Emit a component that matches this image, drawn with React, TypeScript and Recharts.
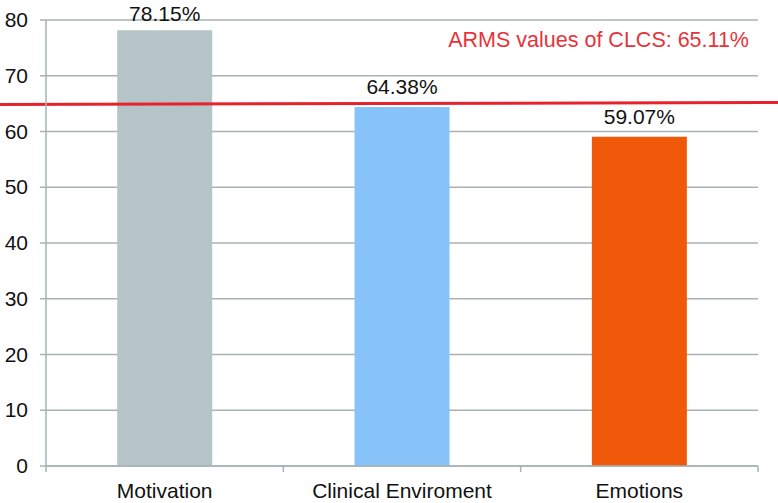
import React from "react";
import { BarChart, Bar, XAxis, YAxis, CartesianGrid, ReferenceLine, Cell, LabelList } from "recharts";

const categories = ["Motivation", "Clinical Enviroment", "Emotions"];
const values = [78.15, 64.38, 59.07];
const barColors = ["#b4c4c7", "#87c2f8", "#f0580a"];
const yTicks = [0, 10, 20, 30, 40, 50, 60, 70, 80];
const armsValue = 65.11;
const armsLabel = "ARMS values of CLCS: 65.11%";

const data = categories.map((name, i) => ({ name, value: values[i] }));

const FONT = "'Liberation Sans', Arial, Helvetica, sans-serif";
const FS = 21;
const AXIS = "#a7b3b3";

const PlainText = ({ x, y, anchor, fill, size, children }: any) => (
  <text x={x} y={y} textAnchor={anchor} fill={fill} fontFamily={FONT} fontSize={size || FS}>
    {children}
  </text>
);

const XTick = (props: any) => {
  const { x, y, payload, index } = props;
  const half = payload && payload.offset ? payload.offset : 118.7;
  return (
    <g>
      <line x1={x - half} x2={x - half} y1={y - 8} y2={y - 2} stroke={AXIS} strokeWidth={1.5} />
      {index === categories.length - 1 && (
        <line x1={x + half} x2={x + half} y1={y - 8} y2={y - 2} stroke={AXIS} strokeWidth={1.5} />
      )}
      <PlainText x={x} y={y + 24} anchor="middle" fill="#111">
        {payload.value}
      </PlainText>
    </g>
  );
};

const YTick = (props: any) => {
  const { x, y, payload } = props;
  return (
    <PlainText x={x - 10} y={y + 7} anchor="end" fill="#111">
      {payload.value}
    </PlainText>
  );
};

const BarLabel = (props: any) => {
  const { x, y, width, value } = props;
  return (
    <PlainText x={x + width / 2} y={Math.max(y - 13, 21)} anchor="middle" fill="#111">
      {`${Number(value).toFixed(2)}%`}
    </PlainText>
  );
};

const RedLine = (props: any) => {
  const { x2, y1, y2 } = props;
  return (
    <g>
      <line x1={0} x2={x2 + 20} y1={y1 + 1.5} y2={y2 - 0.5} stroke="#e8222c" strokeWidth={3} />
    </g>
  );
};

const RedLabel = (props: any) => {
  const { viewBox } = props;
  const vb = viewBox || {};
  return (
    <PlainText x={vb.x + vb.width - 9} y={vb.y - 56} anchor="end" fill="#e8323a" size={21.5}>
      {armsLabel}
    </PlainText>
  );
};

export default function App() {
  return (
    <div style={{ position: "absolute", left: 0, top: 0, width: 778, height: 503, background: "#fff" }}>
      <BarChart
        width={778}
        height={503}
        data={data}
        margin={{ top: 20, right: 20, left: 0, bottom: 0 }}
        barCategoryGap="30%"
      >
        <CartesianGrid vertical={false} stroke={AXIS} strokeWidth={1.5} />
        <XAxis
          dataKey="name"
          height={37}
          axisLine={{ stroke: AXIS, strokeWidth: 1.5 }}
          tickLine={false}
          tick={<XTick />}
          interval={0}
        />
        <YAxis
          width={46}
          domain={[0, 80]}
          ticks={yTicks}
          interval={0}
          axisLine={{ stroke: AXIS, strokeWidth: 1.5 }}
          tickLine={{ stroke: AXIS, strokeWidth: 1.5 }}
          tickSize={6}
          tick={<YTick />}
        />
        <Bar dataKey="value" isAnimationActive={false}>
          {data.map((d, i) => (
            <Cell key={d.name} fill={barColors[i]} />
          ))}
          <LabelList dataKey="value" content={<BarLabel />} />
        </Bar>
        <ReferenceLine y={armsValue} shape={<RedLine />} label={<RedLabel />} ifOverflow="visible" />
      </BarChart>
    </div>
  );
}
